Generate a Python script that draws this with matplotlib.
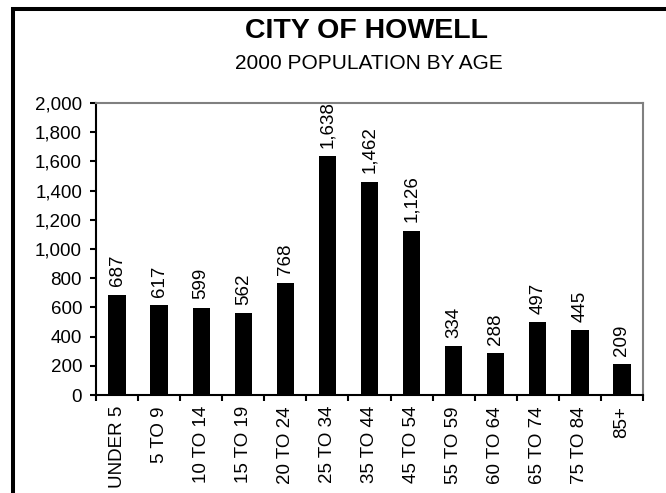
"""
City of Howell: 2000 population by age group, bar chart.
"""

import matplotlib.pyplot as plt
from matplotlib.patches import Rectangle
from matplotlib.ticker import StrMethodFormatter

plt.rcParams["font.family"] = ["Liberation Sans", "DejaVu Sans"]

# Data
age_groups = [
    "UNDER 5", "5 TO 9", "10 TO 14", "15 TO 19", "20 TO 24", "25 TO 34",
    "35 TO 44", "45 TO 54", "55 TO 59", "60 TO 64", "65 TO 74", "75 TO 84",
    "85+",
]
population = [687, 617, 599, 562, 768, 1638, 1462, 1126, 334, 288, 497, 445, 209]
y_ticks = [0, 200, 400, 600, 800, 1000, 1200, 1400, 1600, 1800, 2000]

fig = plt.figure(figsize=(6.66, 4.93), dpi=100)
ax = fig.add_axes([96 / 666, 98 / 493, 547 / 666, 292 / 493])

positions = list(range(len(age_groups)))
bars = ax.bar(positions, population, width=0.41, color="black")

# Value labels, rotated, sitting just above each bar
for bar, value in zip(bars, population):
    ax.annotate(
        f"{value:,}",
        xy=(bar.get_x() + bar.get_width() / 2, bar.get_height()),
        xytext=(0, 6),
        textcoords="offset points",
        rotation=90,
        ha="center",
        va="bottom",
        fontsize=13.5,
        annotation_clip=False,
    )

ax.set_xlim(-0.5, len(age_groups) - 0.5)
ax.set_ylim(y_ticks[0], y_ticks[-1])
ax.set_yticks(y_ticks)
ax.yaxis.set_major_formatter(StrMethodFormatter("{x:,.0f}"))

# Tick marks between categories, category names centred under bars
ax.set_xticks([p - 0.5 for p in positions] + [positions[-1] + 0.5])
ax.set_xticklabels([])
ax.set_xticks(positions, minor=True)
ax.set_xticklabels(age_groups, minor=True, rotation=90, fontsize=13.5)
ax.tick_params(axis="x", which="minor", length=0, pad=8)
ax.tick_params(axis="x", which="major", length=4, width=1.5, direction="out")
ax.tick_params(axis="y", length=4, width=1.5, direction="out", labelsize=13.5, pad=6)

for side in ["left", "bottom"]:
    ax.spines[side].set_color("black")
    ax.spines[side].set_linewidth(1.5)
for side in ["top", "right"]:
    ax.spines[side].set_color("#808080")
    ax.spines[side].set_linewidth(1.5)

# Titles
fig.text(366 / 666, 1 - 38 / 493, "CITY OF HOWELL", ha="center", va="baseline",
         fontsize=20.5, fontweight="bold")
fig.text(369 / 666, 1 - 69 / 493, "2000 POPULATION BY AGE", ha="center",
         va="baseline", fontsize=15)

# Outer chart frame (only left and top edges fall inside the picture)
fig.add_artist(Rectangle((13 / 666, -0.2), 1.2, 1.2 - 9 / 493,
                         transform=fig.transFigure, fill=False,
                         edgecolor="black", linewidth=2.9))

fig.savefig("out.png", dpi=100)
